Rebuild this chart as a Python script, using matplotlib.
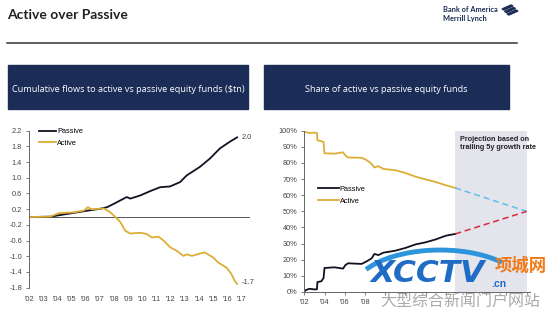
import matplotlib
matplotlib.use("Agg")
import matplotlib.pyplot as plt
from matplotlib.patches import Rectangle, Polygon, Arc

plt.rcParams['font.family'] = ['Liberation Sans', 'DejaVu Sans']

# ---- data: cumulative flows ($tn) ----
flow_years_passive = [2002.0, 2003.5, 2004.7, 2005.9, 2007.0, 2007.5, 2008.0, 2008.9, 2009.15,
                      2009.85, 2010.55, 2011.25, 2011.96, 2012.66, 2013.13, 2014.07, 2014.77,
                      2015.48, 2016.18, 2016.69]
flow_passive = [0.0, 0.01, 0.08, 0.15, 0.21, 0.25, 0.34, 0.51, 0.47,
                0.55, 0.66, 0.76, 0.78, 0.89, 1.06, 1.28, 1.49,
                1.75, 1.92, 2.03]
flow_years_active = [2002.0, 2003.5, 2004.1, 2005.2, 2005.9, 2006.15, 2006.4, 2007.0, 2007.27,
                     2007.74, 2008.1, 2008.45, 2008.8, 2009.15, 2009.85, 2010.3, 2010.67,
                     2011.14, 2011.5, 2011.96, 2012.43, 2012.9, 2013.13, 2013.5, 2014.07,
                     2014.4, 2015.0, 2015.36, 2015.95, 2016.3, 2016.53, 2016.69]
flow_active = [0.0, 0.01, 0.1, 0.12, 0.17, 0.25, 0.2, 0.21, 0.22,
               0.12, 0.0, -0.13, -0.35, -0.42, -0.4, -0.43, -0.52,
               -0.5, -0.6, -0.77, -0.86, -0.99, -0.95, -0.99, -0.93,
               -0.9, -1.03, -1.16, -1.29, -1.46, -1.63, -1.7]
flow_end_labels = ["2.0", "-1.7"]
flow_yticks = [-1.8, -1.4, -1.0, -0.6, -0.2, 0.2, 0.6, 1.0, 1.4, 1.8, 2.2]
flow_xticks = list(range(2002, 2018))

# ---- data: share of funds (%) ----
share_years = [2002.0, 2002.17, 2002.5, 2003.0, 2003.25, 2003.3, 2003.67, 2003.9, 2004.0,
               2005.0, 2005.83, 2006.07, 2006.33, 2007.67, 2008.17, 2008.67, 2008.93,
               2009.33, 2009.83, 2011.0, 2012.0, 2013.0, 2014.0, 2015.0, 2016.0, 2016.93]
share_active = [100, 99.0, 98.6, 98.8, 98.6, 94.0, 93.6, 93.0, 86.0,
                85.8, 86.6, 84.6, 83.4, 83.2, 81.8, 79.3, 77.2,
                78.0, 76.3, 75.5, 73.8, 71.5, 69.8, 68.2, 66.2, 64.5]
share_passive = [0.4, 1.2, 2.0, 1.6, 1.7, 6.2, 6.6, 8.5, 14.9,
                 15.3, 14.5, 16.7, 17.8, 17.4, 19.0, 20.9, 23.6,
                 22.9, 24.4, 25.6, 27.3, 29.5, 30.8, 32.6, 34.9, 36.0]
proj_years = [2016.93, 2024.0]
proj_active = [64.5, 50.0]
proj_passive = [36.0, 50.0]
share_xticks = list(range(2002, 2025, 2))
share_xlabels = ["'02", "'04", "'06", "'08"]   # the rest sits under the watermark
share_yticks = list(range(0, 101, 10))

navy = '#1b2d57'
gold = '#dcae35'
black = '#111122'
tick_col = '#444444'

W, H = 554, 317
fig = plt.figure(figsize=(W / 100, H / 100), dpi=100)


def fx(px):
    return px / W


def fy(py):
    return 1 - py / H


# header
fig.text(fx(7), fy(15), "Active over Passive", family=['Lato', 'DejaVu Sans'],
         weight='bold', fontsize=10, color='#222222', va='center', ha='left')
fig.text(fx(443), fy(10), "Bank of America", family=['Lato', 'DejaVu Sans'],
         weight='bold', fontsize=5.3, color=navy, va='center', ha='left')
fig.text(fx(443), fy(19), "Merrill Lynch", family=['Lato', 'DejaVu Sans'],
         weight='bold', fontsize=5.3, color=navy, va='center', ha='left')
for i in range(3):
    d = i * 2.5
    fig.patches.append(Polygon([(fx(502 + d), fy(9 + d)), (fx(511 + d), fy(5 + d)),
                                (fx(513 + d), fy(6 + d)), (fx(504 + d), fy(10 + d))],
                               closed=True, color=navy, transform=fig.transFigure))
fig.add_artist(plt.Line2D([fx(7), fx(517)], [fy(43), fy(43)], color='#333333', lw=1.1))

# title boxes
for x0, x1, txt in [(8, 248, "Cumulative flows to active vs passive equity funds ($tn)"),
                    (264, 509, "Share of active vs passive equity funds")]:
    fig.patches.append(Rectangle((fx(x0), fy(109)), fx(x1 - x0), (109 - 65) / H,
                                 color=navy, transform=fig.transFigure))
    fig.text(fx((x0 + x1) / 2), fy(89), txt, color='white', fontsize=6.6,
             family=['Open Sans', 'DejaVu Sans'], ha='center', va='center')

# ---- left chart ----
ax1 = fig.add_axes([fx(29), fy(287.7), fx(221), (287.7 - 130.7) / H])
ax1.plot(flow_years_passive, flow_passive, color=black, lw=1.3, label='Passive')
ax1.plot(flow_years_active, flow_active, color=gold, lw=1.3, label='Active')
ax1.axhline(0, color='#555555', lw=0.7, zorder=0)
ax1.set_xlim(2002, 2017.6)
ax1.set_ylim(-1.8, 2.2)
ax1.set_yticks(flow_yticks)
ax1.set_yticklabels([f"{v:.1f}" for v in flow_yticks])
ax1.set_xticks(flow_xticks)
ax1.set_xticklabels([f"'{y % 100:02d}" for y in flow_xticks])
for s in ['top', 'right', 'bottom']:
    ax1.spines[s].set_visible(False)
ax1.spines['left'].set_color('#666666')
ax1.spines['left'].set_linewidth(0.7)
ax1.tick_params(axis='y', length=2, width=0.6, color='#666666', labelsize=5.3,
                labelcolor=tick_col, pad=3)
ax1.tick_params(axis='x', length=0, labelsize=5.3, labelcolor=tick_col, pad=6)
ax1.text(flow_years_passive[-1] + 0.35, flow_passive[-1], flow_end_labels[0],
         fontsize=5.3, color=tick_col, va='center', ha='left')
ax1.text(flow_years_active[-1] + 0.35, flow_active[-1] + 0.02, flow_end_labels[1],
         fontsize=5.3, color=tick_col, va='center', ha='left')
ax1.legend(loc='upper left', bbox_to_anchor=(0.02, 1.05), frameon=False, fontsize=5.3,
           handlelength=2.4, handletextpad=0.1, labelspacing=0.6, borderpad=0.2)

# ---- right chart ----
ax2 = fig.add_axes([fx(304.3), fy(292), fx(225.4), (292 - 130.7) / H])
ax2.axvspan(proj_years[0], proj_years[1] + 0.05, color='#e4e4ec', zorder=0, lw=0)
ax2.plot(share_years, share_passive, color=black, lw=1.3, label='Passive')
ax2.plot(share_years, share_active, color=gold, lw=1.3, label='Active')
ax2.plot(proj_years, proj_active, color='#5cc0ea', lw=1.1, ls=(0, (4, 2.5)))
ax2.plot(proj_years, proj_passive, color='#d8283c', lw=1.1, ls=(0, (4, 2.5)))
ax2.set_xlim(2002, 2024.3)
ax2.set_ylim(0, 100)
ax2.set_yticks(share_yticks)
ax2.set_yticklabels([f"{v}%" for v in share_yticks])
ax2.set_xticks(share_xticks)
ax2.set_xticklabels(share_xlabels + [""] * (len(share_xticks) - len(share_xlabels)))
for s in ['top', 'right']:
    ax2.spines[s].set_visible(False)
for s in ['left', 'bottom']:
    ax2.spines[s].set_color('#666666')
    ax2.spines[s].set_linewidth(0.7)
ax2.tick_params(length=2, width=0.6, color='#666666', labelsize=5.3, labelcolor=tick_col, pad=3)
ax2.text(2017.4, 97, "Projection based on\ntrailing 5y growth rate", fontsize=5.2,
         weight='bold', color='#222222', va='top', ha='left', linespacing=1.3)
ax2.legend(loc='upper left', bbox_to_anchor=(0.04, 0.69), frameon=False, fontsize=5.3,
           handlelength=2.8, handletextpad=0.1, labelspacing=0.6, borderpad=0.2)

# watermark of the source page
fig.add_artist(Arc((fx(440), fy(292)), fx(175), 84 / H, theta1=40, theta2=152,
                   color='#2e95dc', lw=3.5, transform=fig.transFigure, zorder=9))
fig.text(fx(371), fy(273), "XCCTV", color='#1f6cc4', fontsize=22.5, weight='bold',
         style='italic', family=['DejaVu Sans'], ha='left', va='center', zorder=10)
fig.text(fx(491), fy(284), ".cn", color='#1f6cc4', fontsize=7.5, weight='bold',
         ha='left', va='center', zorder=10)
fig.text(fx(521), fy(266), "项城网", color='#f07a1a', fontsize=12.5, weight='bold',
         family=['Noto Sans CJK SC'], ha='center', va='center', zorder=10)
fig.text(fx(460), fy(302), "大型综合新闻门户网站", color='#aaaaaa', fontsize=11.5,
         family=['Noto Sans CJK SC'], ha='center', va='center', zorder=10)

fig.savefig("out.png", dpi=100)
